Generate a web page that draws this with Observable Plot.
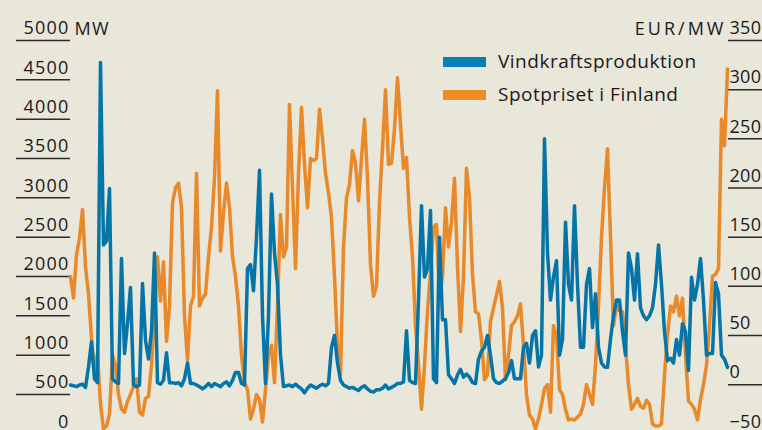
<!DOCTYPE html>
<html>
<head>
<meta charset="utf-8">
<script src="https://cdn.jsdelivr.net/npm/d3@7"></script>
<script src="https://cdn.jsdelivr.net/npm/@observablehq/plot@0.6"></script>
<style>
  html, body { margin: 0; padding: 0; background: #e9e6da; overflow: hidden; }
  #wrap { position: relative; width: 762px; height: 430px; overflow: hidden; font-family: "Open Sans", "Noto Sans", sans-serif; color: #1a1a1a; }
  #legend { position: absolute; left: 443px; top: 45px; font-size: 19px; line-height: 33px; letter-spacing: 0.5px; }
  #legend .row { display: flex; align-items: center; }
  #legend .sw { width: 43px; height: 10px; margin-right: 12px; }
  .rlab text { letter-spacing: 0.3px; }
  .unitr text { letter-spacing: 3px; }
</style>
</head>
<body>
<div id="wrap">
  <div id="chart"></div>
  <div id="legend"></div>
</div>
<script>
// ---- data ----
const seriesNames = ["Vindkraftsproduktion", "Spotpriset i Finland"];
const unitLeft = "MW";
const unitRight = "EUR/MW";
const leftTicks = [0, 500, 1000, 1500, 2000, 2500, 3000, 3500, 4000, 4500, 5000];
const rightTicks = [-50, 0, 50, 100, 150, 200, 250, 300, 350];

// Wind power production (MW), one value per time step
const wind = [
  620, 610, 600, 620, 630, 590, 850, 1170, 700, 650,
  4720, 2400, 2450, 3120, 700, 660, 640, 2230, 1020, 1400,
  1860, 620, 600, 620, 1910, 1190, 950, 1300, 2300, 650,
  630, 680, 1030, 650, 650, 640, 650, 610, 700, 900,
  640, 640, 620, 600, 570, 600, 640, 600, 640, 620,
  600, 640, 660, 610, 680, 780, 780, 640, 620, 2100,
  2150, 1820, 2500, 3350, 1500, 640, 1500, 3050, 2300, 1900,
  1000, 600, 610, 620, 600, 630, 600, 570, 520, 580,
  620, 600, 580, 610, 630, 610, 640, 1100, 1250, 900,
  680, 620, 600, 580, 590, 570, 550, 590, 610, 570,
  540, 530, 560, 560, 580, 620, 570, 590, 610, 640,
  640, 660, 1310, 680, 650, 640, 1700, 2900, 1990, 2100,
  2840, 700, 650, 2500, 1450, 1450, 750, 700, 640, 750,
  820, 720, 760, 720, 650, 640, 950, 1050, 1100, 1250,
  1000, 700, 650, 640, 670, 700, 780, 930, 700, 700,
  700, 1100, 1150, 900, 1250, 1310, 850, 1000, 3750, 2300,
  1700, 2000, 2200, 1000, 1200, 2690, 1900, 1700, 2900, 1900,
  1100, 1100, 1900, 2100, 1350, 1780, 1100, 900, 850, 845,
  1200, 1500, 1700, 1700, 1300, 1000, 2300, 2100, 1700, 2290,
  1600, 1500, 1450, 1500, 1600, 1900, 2400, 1900, 1300, 930,
  960, 900, 1200, 1000, 1400, 1300, 805, 1990, 1700, 1900,
  2230, 1700, 1000, 1020, 1020, 1925, 1780, 1000, 950, 845
];

// Spot price in Finland (EUR/MW), one value per time step
const price = [
  110, 88, 132, 149, 178, 120, 92, 47, 13, 32,
  -20, -45, -42, -30, 30, 20, -10, -25, -28, -17,
  -10, -2, 6, -28, -31, -14, -12, 20, 70, 130,
  85, 125, 44, 80, 185, 200, 205, 180, 70, 25,
  80, 90, 215, 80, 88, 92, 130, 160, 210, 299,
  136, 175, 205, 180, 130, 110, 80, 30, 2, -5,
  -35, -25, -10, -15, -38, -5, 30, 40, 2, 80,
  173, 130, 140, 285, 200, 118, 214, 282, 224, 180,
  230, 228, 230, 280, 250, 215, 195, 170, 110, 40,
  10, 140, 190, 204, 238, 225, 187, 230, 270, 210,
  122, 90, 100, 185, 240, 300, 224, 225, 260, 312,
  265, 220, 231, 170, 130, 60, 20, -25, 20, 75,
  115, 160, 163, 90, 110, 180, 140, 165, 210, 120,
  54, 110, 220, 190, 112, 74, 72, 45, 5, 10,
  64, 78, 91, 105, 78, 5, 30, 60, 64, 70,
  82, 40, -10, -31, -35, -45, -35, -20, -4, 0,
  -28, 60, 50, -5, -10, -25, -36, -35, -36, -33,
  -30, -20, 0, -10, -20, 20, 80, 150, 200, 240,
  150, 60, 80, 75, 74, 40, 0, -25, -20, -14,
  -22, -24, -16, -20, -40, -42, -42, -40, 10, 50,
  80, 74, 90, 70, 88, 30, -17, -20, -25, -36,
  -15, 0, 20, 60, 110, 112, 118, 270, 243, 321
];

const colors = ["#0575a8", "#e8892a"];

// right axis maps -50..350 onto the same pixel range as 0..5000 MW
const pMin = -50, pMax = 350, wMax = 5000;
const toMW = p => (p - pMin) / (pMax - pMin) * wMax;
const fromMW = m => Math.round(m / wMax * (pMax - pMin) + pMin);
const fmtNum = v => (v < 0 ? "\u2212" + Math.abs(v) : String(v));

const windData = wind.map((v, i) => ({i, v}));
const priceData = price.map((v, i) => ({i, v: toMW(v)}));

const font = '"Open Sans", "Noto Sans", sans-serif';
const ink = "#1a1a1a";

const chart = Plot.plot({
  width: 762,
  height: 440,
  marginTop: 40,
  marginBottom: 6.7,
  marginLeft: 70,
  marginRight: 35,
  style: {background: "transparent", fontFamily: font, fontSize: "18px", color: ink, overflow: "visible", letterSpacing: "1.2px"},
  x: {domain: [0, wind.length - 1], axis: null},
  y: {domain: [0, wMax], axis: null},
  marks: [
    // tick lines (left and right)
    Plot.axisY({anchor: "left", ticks: leftTicks, tickSize: 54, tickFormat: () => "", label: null,
      stroke: "#2a2a2a", strokeWidth: 1.5}),
    Plot.axisY({anchor: "right", ticks: rightTicks.map(toMW), tickSize: 35, tickFormat: () => "", label: null,
      stroke: "#2a2a2a", strokeWidth: 1.5}),
    // tick labels sitting above the tick lines
    Plot.axisY({anchor: "left", ticks: leftTicks, tickSize: 0, tickPadding: 0, dx: -1, dy: -12,
      tickFormat: d => String(d), label: null, fontSize: 18, fill: ink}),
    Plot.axisY({anchor: "right", ticks: rightTicks.map(toMW), tickSize: 0, tickPadding: 0, dx: 2, dy: -12,
      tickFormat: d => fmtNum(fromMW(d)), label: null, fontSize: 18, fill: ink, className: "rlab"}),
    Plot.lineY(priceData, {x: "i", y: "v", stroke: colors[1], strokeWidth: 3.5, strokeLinejoin: "round"}),
    Plot.lineY(windData, {x: "i", y: "v", stroke: colors[0], strokeWidth: 3.5, strokeLinejoin: "round"}),
    Plot.text([unitLeft], {frameAnchor: "top-left", dx: 4, dy: -6, lineAnchor: "bottom", textAnchor: "start", fontSize: 18, fill: ink}),
    Plot.text([unitRight], {frameAnchor: "top-right", dx: -1, dy: -6, lineAnchor: "bottom", textAnchor: "end", fontSize: 18, fill: ink, className: "unitr"})
  ]
});
document.getElementById("chart").appendChild(chart);

const legend = document.getElementById("legend");
seriesNames.forEach((name, k) => {
  const row = document.createElement("div");
  row.className = "row";
  const sw = document.createElement("span");
  sw.className = "sw";
  sw.style.background = k === 0 ? "#0680b6" : "#f08c24";
  const t = document.createElement("span");
  t.textContent = name;
  row.appendChild(sw);
  row.appendChild(t);
  legend.appendChild(row);
});
</script>
</body>
</html>
